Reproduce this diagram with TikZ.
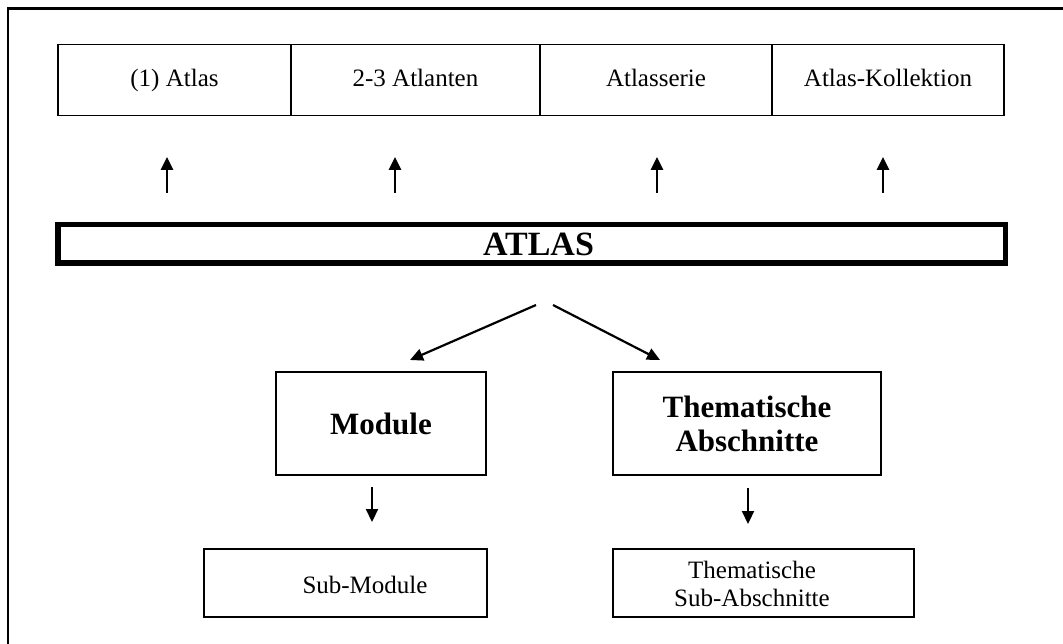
\documentclass[tikz,border=0pt]{standalone}
\usepackage{fontspec}
\setmainfont{Liberation Serif}
\usetikzlibrary{arrows.meta}
\begin{document}
\begin{tikzpicture}[x=1pt,y=-1pt,
  topbox/.style={draw, line width=1.5pt, minimum width=#1, minimum height=71pt, inner sep=0pt,
    text height=17pt, text depth=3pt, font=\fontsize{25}{28}\selectfont},
  midbox/.style={draw, line width=2pt, minimum height=103pt, inner sep=0pt, align=center, font=\fontsize{31}{36}\selectfont\bfseries},
  subbox/.style={draw, line width=2pt, minimum height=68pt, inner sep=0pt},
  subtext/.style={inner sep=0pt, align=center, font=\fontsize{25}{31}\selectfont},
  arr/.style={line width=2.8pt, -{Triangle[length=13pt,width=12pt]}},
  darr/.style={line width=2.2pt, -{Triangle[length=13pt,width=12pt]}}
]
\useasboundingbox (0,0) rectangle (1063,644);
% outer frame (left and top edges only)
\draw[line width=2.5pt] (8,644) -- (8,8.5) -- (1063,8.5);

% top row
\node[topbox=233pt] (b1) at (174.5,80) {(1) Atlas};
\node[topbox=249pt] (b2) at (415.5,80) {2-3 Atlanten};
\node[topbox=232pt] (b3) at (656,80) {Atlasserie};
\node[topbox=232pt] (b4) at (888,80) {Atlas-Kollektion};

% ATLAS bar
\node[draw, line width=5.5pt, minimum width=947.5pt, minimum height=38.5pt, inner sep=0pt,
      font=\fontsize{34}{38}\selectfont\bfseries] (atlas) at (531.5,244) {\hspace*{14pt}ATLAS};

% up arrows
\foreach \i/\x in {1/167,2/395,3/657,4/883}{
  \coordinate (u\i s) at (\x,193);
  \coordinate (u\i e) at (\x,157);
  \draw[arr] (u\i s) -- (u\i e);
}

% second level
\node[midbox, minimum width=210pt] (mod) at (381,423.5) {Module};
\node[midbox, minimum width=268pt] (them) at (747,423.5) {Thematische\\[-2pt]Abschnitte};

\coordinate (dl) at (536,305);
\coordinate (dr) at (553,305);
\coordinate (ml) at (410,360);
\coordinate (mr) at (660,360);
\draw[darr] (dl) -- (ml);
\draw[darr] (dr) -- (mr);

% third level
\node[subbox, minimum width=283pt] (sub) at (345.5,583) {};
\node[subtext] (subt) at (365,585) {Sub-Module};
\node[subbox, minimum width=301pt] (tsub) at (763.5,583) {};
\node[subtext] (tsubt) at (752,584) {Thematische\\[-3pt]Sub-Abschnitte};

\coordinate (a1s) at (372,487);
\coordinate (a1e) at (372,522);
\coordinate (a2s) at (748,488);
\coordinate (a2e) at (748,524);
\draw[darr] (a1s) -- (a1e);
\draw[darr] (a2s) -- (a2e);
\end{tikzpicture}
\end{document}
